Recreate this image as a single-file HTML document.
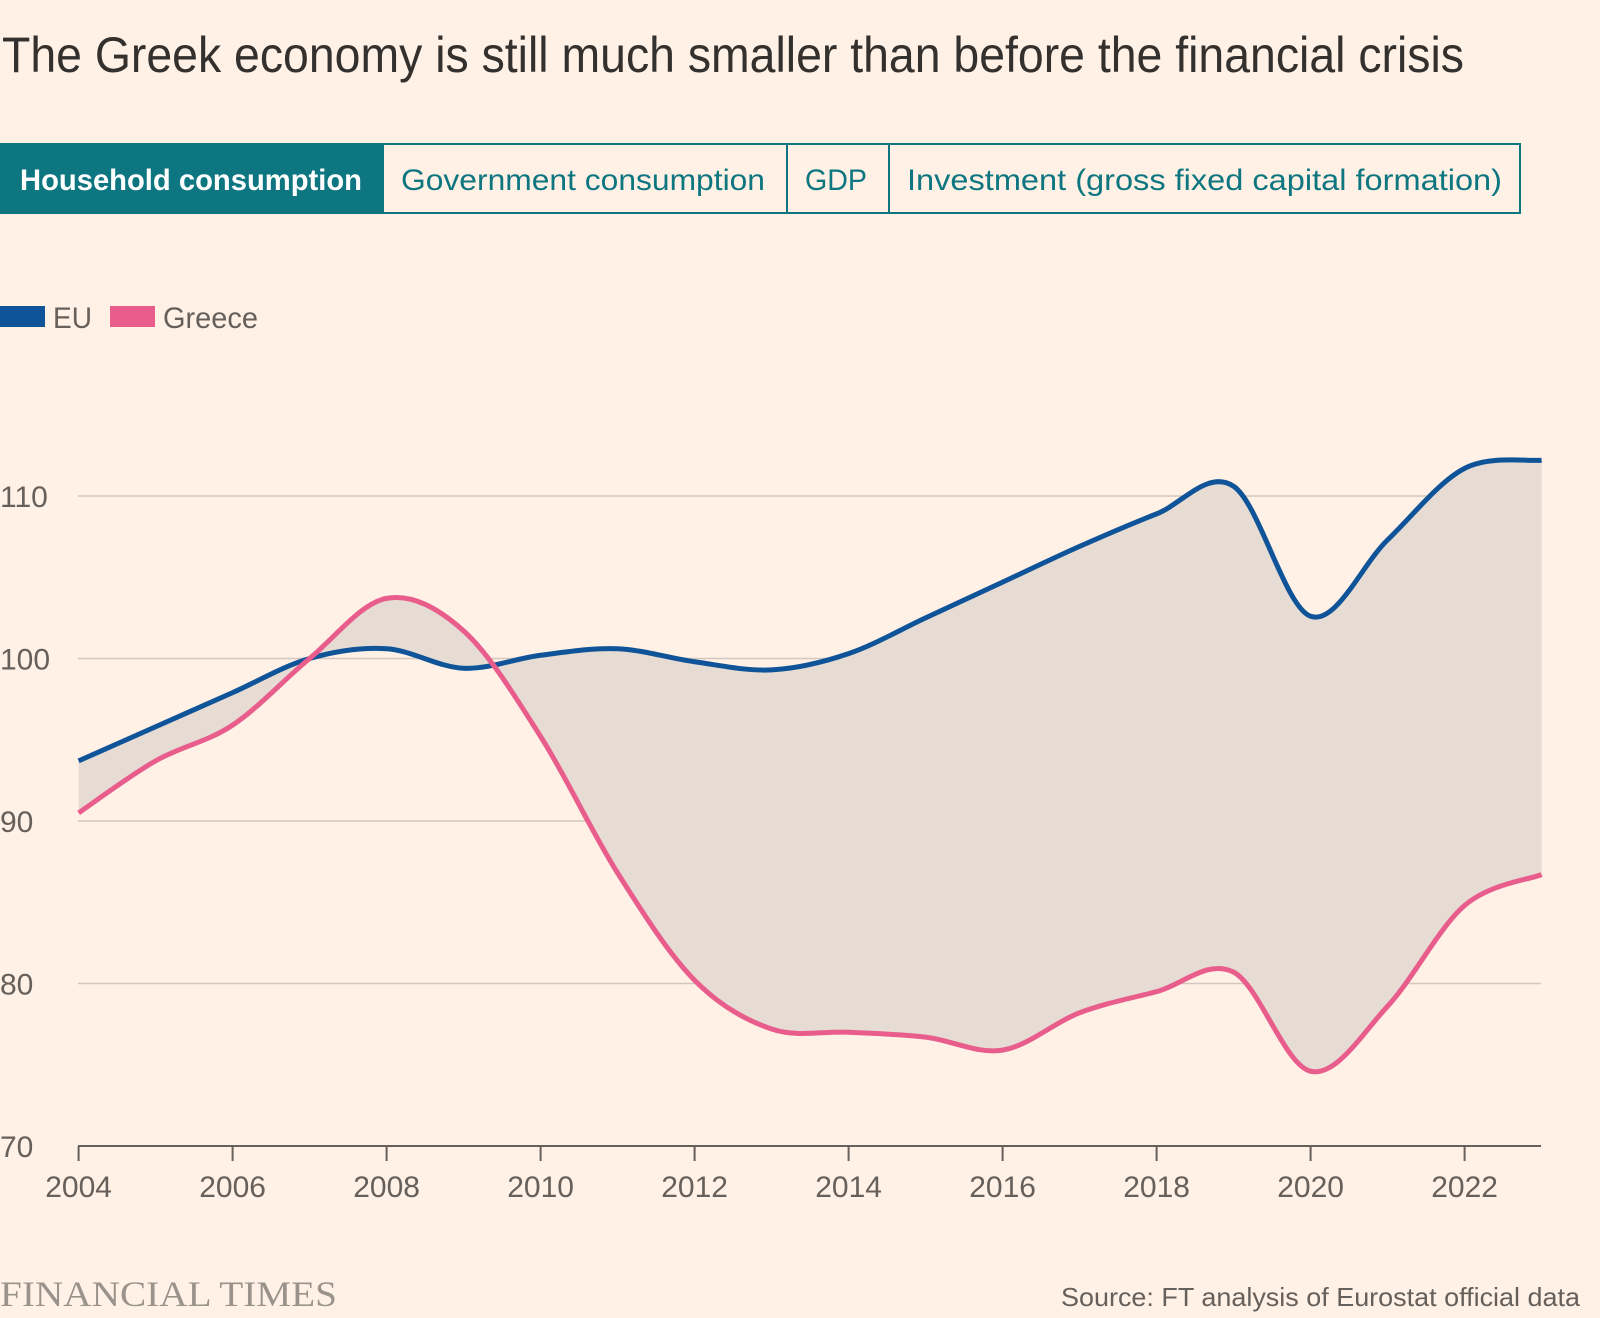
<!DOCTYPE html>
<html><head><meta charset="utf-8"><style>
html,body{margin:0;padding:0;background:#fff1e5;}
svg{display:block;font-family:"Liberation Sans",sans-serif;}
</style></head><body>
<svg id="s" width="1600" height="1318" viewBox="0 0 1600 1318" xmlns="http://www.w3.org/2000/svg">
<rect width="1600" height="1318" fill="#fff1e5"/>
<text x="2" y="72" font-size="50" fill="#33302e" textLength="1462" lengthAdjust="spacingAndGlyphs">The Greek economy is still much smaller than before the financial crisis</text>
<rect x="1" y="144" width="1519" height="69" fill="#fff1e5" stroke="#0d7680" stroke-width="2"/>
<rect x="0" y="143" width="384" height="71" fill="#0d7680"/>
<line x1="787" y1="144" x2="787" y2="213" stroke="#0d7680" stroke-width="2"/>
<line x1="889" y1="144" x2="889" y2="213" stroke="#0d7680" stroke-width="2"/>
<text x="20" y="190" font-size="30" font-weight="bold" fill="#fff" textLength="342" lengthAdjust="spacingAndGlyphs">Household consumption</text>
<text x="401" y="190" font-size="30" fill="#0d7680" textLength="364" lengthAdjust="spacingAndGlyphs">Government consumption</text>
<text x="805" y="190" font-size="30" fill="#0d7680" textLength="62" lengthAdjust="spacingAndGlyphs">GDP</text>
<text x="907" y="190" font-size="30" fill="#0d7680" textLength="595" lengthAdjust="spacingAndGlyphs">Investment (gross fixed capital formation)</text>
<rect x="0" y="306" width="45" height="21" fill="#0f5499"/>
<text x="53" y="328" font-size="30" fill="#66605c" textLength="39" lengthAdjust="spacingAndGlyphs">EU</text>
<rect x="110" y="306" width="45" height="21" fill="#e95d8c"/>
<text x="163" y="328" font-size="30" fill="#66605c" textLength="95" lengthAdjust="spacingAndGlyphs">Greece</text>
<g id="grid" stroke="#d2c8bf" stroke-width="1.5"></g>
<g id="ylab" font-size="30" fill="#66605c"></g>
<path id="fill" fill="#e6dcd3"/>
<path id="eu" fill="none" stroke="#0f5499" stroke-width="5" stroke-linejoin="round"/>
<path id="gr" fill="none" stroke="#e95d8c" stroke-width="5" stroke-linejoin="round"/>
<line x1="78" y1="1146" x2="1541" y2="1146" stroke="#66605c" stroke-width="2"/>
<g id="xt" stroke="#66605c" stroke-width="2"></g>
<g id="xlab" font-size="30" fill="#66605c" text-anchor="middle"></g>
<text x="0" y="1306" font-family="Liberation Serif,serif" font-size="36" fill="#9a938c" textLength="337" lengthAdjust="spacingAndGlyphs">FINANCIAL TIMES</text>
<text x="1061" y="1306" font-size="26" fill="#66605c" textLength="519" lengthAdjust="spacingAndGlyphs">Source: FT analysis of Eurostat official data</text>
</svg>
<script>
var X=function(yr){return 78.6+(yr-2004)*77.0;};
var Y=function(v){return 658.5-(v-100)*16.25;};
var ns="http://www.w3.org/2000/svg";
function el(p,t,a,txt){var e=document.createElementNS(ns,t);for(var k in a)e.setAttribute(k,a[k]);if(txt)e.textContent=txt;document.getElementById(p).appendChild(e);}
[110,100,90,80].forEach(function(v){el("grid","line",{x1:78,y1:Y(v),x2:1541,y2:Y(v)});});
[110,100,90,80,70].forEach(function(v){el("ylab","text",{x:0,y:Y(v)+11},String(v));});
for(var yr=2004;yr<=2022;yr+=2){el("xt","line",{x1:X(yr),y1:1146,x2:X(yr),y2:1161});el("xlab","text",{x:X(yr),y:1197},String(yr));}
var eu=[93.7,95.8,97.9,100.0,100.6,99.4,100.2,100.6,99.8,99.3,100.3,102.5,104.7,106.9,108.9,110.6,102.6,107.3,111.7,112.2];
var gr=[90.5,93.7,95.9,100.0,103.7,101.7,95.2,86.8,80.2,77.2,77.0,76.7,75.9,78.2,79.5,80.7,74.6,78.6,84.8,86.7];
function pts(d){return d.map(function(v,i){return [X(2004+i),Y(v)];});}
function curve(p,start){var s=start?"M"+p[0][0]+","+p[0][1]:"L"+p[0][0]+","+p[0][1];
for(var i=0;i<p.length-1;i++){var p0=p[i-1]||p[i],p1=p[i],p2=p[i+1],p3=p[i+2]||p[i+1];var t=0.5/3*2/2*1.3;
s+="C"+(p1[0]+(p2[0]-p0[0])*0.166)+","+(p1[1]+(p2[1]-p0[1])*0.166)+" "+(p2[0]-(p3[0]-p1[0])*0.166)+","+(p2[1]-(p3[1]-p1[1])*0.166)+" "+p2[0]+","+p2[1];}
return s;}
var pe=pts(eu),pg=pts(gr);
document.getElementById("eu").setAttribute("d",curve(pe,true));
document.getElementById("gr").setAttribute("d",curve(pg,true));
document.getElementById("fill").setAttribute("d",curve(pe,true)+curve(pg.slice().reverse(),false)+"Z");
</script>
</body></html>
